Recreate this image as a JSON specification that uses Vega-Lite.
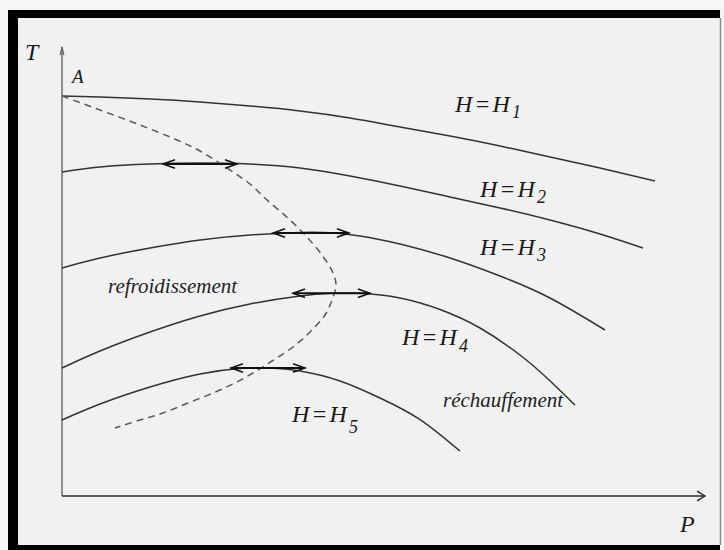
{
  "$schema": "https://vega.github.io/schema/vega-lite/v6.json",
  "width": 724,
  "height": 550,
  "padding": 0,
  "autosize": {"type": "fit", "contains": "padding"},
  "background": "#f6f6f6",
  "config": {"view": {"stroke": null}},
  "datasets": {
    "frame": [{"x1": -0.9, "x2": 10.967, "y1": -1.2, "y2": 10.8}],
    "inner": [{"x1": -0.733, "x2": 10.967, "y1": -1.089, "y2": 10.622}],
    "edge": [{"x": 10.975, "y1": -1.089, "y2": 10.622}],
    "axes": [
      {"axis": "T", "x1": 0, "x2": 0, "y1": 0, "y2": 9.978},
      {"axis": "P", "x1": 0, "x2": 10.717, "y1": 0, "y2": 0}
    ],
    "axisHeads": [
      {"dir": "up", "P": 0, "T": 9.978},
      {"dir": "right", "P": 10.717, "T": 0}
    ],
    "isenthalps": [
      {"curve": "H1", "P": 0, "T": 8.889}, {"curve": "H1", "P": 0.633, "T": 8.867}, {"curve": "H1", "P": 1.467, "T": 8.822},
      {"curve": "H1", "P": 2.3, "T": 8.756}, {"curve": "H1", "P": 3.133, "T": 8.667}, {"curve": "H1", "P": 3.967, "T": 8.556},
      {"curve": "H1", "P": 4.8, "T": 8.4}, {"curve": "H1", "P": 5.633, "T": 8.2}, {"curve": "H1", "P": 6.467, "T": 8.0},
      {"curve": "H1", "P": 7.3, "T": 7.778}, {"curve": "H1", "P": 8.133, "T": 7.533}, {"curve": "H1", "P": 8.967, "T": 7.289},
      {"curve": "H1", "P": 9.883, "T": 7.0},
      {"curve": "H2", "P": 0, "T": 7.2}, {"curve": "H2", "P": 0.633, "T": 7.311}, {"curve": "H2", "P": 1.467, "T": 7.378},
      {"curve": "H2", "P": 2.3, "T": 7.4}, {"curve": "H2", "P": 3.133, "T": 7.378}, {"curve": "H2", "P": 3.967, "T": 7.289},
      {"curve": "H2", "P": 4.8, "T": 7.111}, {"curve": "H2", "P": 5.633, "T": 6.889}, {"curve": "H2", "P": 6.467, "T": 6.644},
      {"curve": "H2", "P": 7.3, "T": 6.4}, {"curve": "H2", "P": 8.133, "T": 6.133}, {"curve": "H2", "P": 8.967, "T": 5.822},
      {"curve": "H2", "P": 9.683, "T": 5.511},
      {"curve": "H3", "P": 0, "T": 5.067}, {"curve": "H3", "P": 0.633, "T": 5.289}, {"curve": "H3", "P": 1.467, "T": 5.511},
      {"curve": "H3", "P": 2.3, "T": 5.689}, {"curve": "H3", "P": 3.133, "T": 5.8}, {"curve": "H3", "P": 3.967, "T": 5.856},
      {"curve": "H3", "P": 4.467, "T": 5.85}, {"curve": "H3", "P": 4.967, "T": 5.778}, {"curve": "H3", "P": 5.633, "T": 5.6},
      {"curve": "H3", "P": 6.467, "T": 5.289}, {"curve": "H3", "P": 7.3, "T": 4.889}, {"curve": "H3", "P": 8.133, "T": 4.4},
      {"curve": "H3", "P": 9.05, "T": 3.689},
      {"curve": "H4", "P": 0, "T": 2.844}, {"curve": "H4", "P": 0.633, "T": 3.222}, {"curve": "H4", "P": 1.467, "T": 3.644},
      {"curve": "H4", "P": 2.3, "T": 4.0}, {"curve": "H4", "P": 3.133, "T": 4.267}, {"curve": "H4", "P": 3.967, "T": 4.444},
      {"curve": "H4", "P": 4.467, "T": 4.505}, {"curve": "H4", "P": 4.967, "T": 4.505}, {"curve": "H4", "P": 5.633, "T": 4.4},
      {"curve": "H4", "P": 6.3, "T": 4.144}, {"curve": "H4", "P": 6.967, "T": 3.733}, {"curve": "H4", "P": 7.633, "T": 3.133},
      {"curve": "H4", "P": 8.1, "T": 2.6}, {"curve": "H4", "P": 8.55, "T": 2.022},
      {"curve": "H5", "P": 0, "T": 1.689}, {"curve": "H5", "P": 0.633, "T": 2.044}, {"curve": "H5", "P": 1.467, "T": 2.422},
      {"curve": "H5", "P": 2.3, "T": 2.711}, {"curve": "H5", "P": 2.967, "T": 2.833}, {"curve": "H5", "P": 3.467, "T": 2.844},
      {"curve": "H5", "P": 3.967, "T": 2.778}, {"curve": "H5", "P": 4.633, "T": 2.556}, {"curve": "H5", "P": 5.3, "T": 2.178},
      {"curve": "H5", "P": 5.967, "T": 1.7}, {"curve": "H5", "P": 6.633, "T": 1.0}
    ],
    "inversion": [
      {"i": 0, "P": 0, "T": 8.889}, {"i": 1, "P": 0.633, "T": 8.578}, {"i": 2, "P": 1.3, "T": 8.244},
      {"i": 3, "P": 1.917, "T": 7.911}, {"i": 4, "P": 2.3, "T": 7.667}, {"i": 5, "P": 2.75, "T": 7.289},
      {"i": 6, "P": 3.133, "T": 6.933}, {"i": 7, "P": 3.417, "T": 6.578}, {"i": 8, "P": 3.8, "T": 6.133},
      {"i": 9, "P": 4.083, "T": 5.756}, {"i": 10, "P": 4.333, "T": 5.356}, {"i": 11, "P": 4.517, "T": 4.956},
      {"i": 12, "P": 4.567, "T": 4.689}, {"i": 13, "P": 4.5, "T": 4.356}, {"i": 14, "P": 4.383, "T": 4.022},
      {"i": 15, "P": 4.133, "T": 3.644}, {"i": 16, "P": 3.85, "T": 3.311}, {"i": 17, "P": 3.5, "T": 3.0},
      {"i": 18, "P": 3.183, "T": 2.733}, {"i": 19, "P": 2.85, "T": 2.489}, {"i": 20, "P": 2.517, "T": 2.289},
      {"i": 21, "P": 2.1, "T": 2.067}, {"i": 22, "P": 1.683, "T": 1.844}, {"i": 23, "P": 1.3, "T": 1.689},
      {"i": 24, "P": 0.883, "T": 1.511}
    ],
    "arrows": [
      {"curve": "H2", "P1": 1.683, "P2": 2.917, "T": 7.378},
      {"curve": "H3", "P1": 3.517, "P2": 4.783, "T": 5.844},
      {"curve": "H4", "P1": 3.85, "P2": 5.133, "T": 4.505},
      {"curve": "H5", "P1": 2.817, "P2": 4.05, "T": 2.844}
    ],
    "heads": [
      {"dir": "left", "P": 1.683, "T": 7.378}, {"dir": "right", "P": 2.917, "T": 7.378},
      {"dir": "left", "P": 3.517, "T": 5.844}, {"dir": "right", "P": 4.783, "T": 5.844},
      {"dir": "left", "P": 3.85, "T": 4.505}, {"dir": "right", "P": 5.133, "T": 4.505},
      {"dir": "left", "P": 2.817, "T": 2.844}, {"dir": "right", "P": 4.05, "T": 2.844}
    ],
    "axisLabels": [
      {"label": "T", "P": -0.617, "T": 9.689},
      {"label": "P", "P": 10.3, "T": -0.8}
    ],
    "pointLabels": [{"label": "A", "P": 0.167, "T": 9.178}],
    "curveLabels": [
      {"label": "H\u200a=\u200aH", "P": 6.55, "T": 8.533},
      {"label": "H\u200a=\u200aH", "P": 6.967, "T": 6.644},
      {"label": "H\u200a=\u200aH", "P": 6.967, "T": 5.356},
      {"label": "H\u200a=\u200aH", "P": 5.667, "T": 3.356},
      {"label": "H\u200a=\u200aH", "P": 3.833, "T": 1.644}
    ],
    "subscripts": [
      {"label": "1", "P": 7.5, "T": 8.4},
      {"label": "2", "P": 7.917, "T": 6.511},
      {"label": "3", "P": 7.917, "T": 5.222},
      {"label": "4", "P": 6.617, "T": 3.2},
      {"label": "5", "P": 4.783, "T": 1.4}
    ],
    "regions": [
      {"label": "refroidissement", "P": 0.767, "T": 4.511},
      {"label": "réchauffement", "P": 6.35, "T": 1.978}
    ]
  },
  "resolve": {"scale": {"color": "independent", "shape": "independent"}},
  "encoding": {
    "x": {"type": "quantitative", "scale": {"domain": [-1.0333, 11.0333], "nice": false, "zero": false}, "axis": null},
    "y": {"type": "quantitative", "scale": {"domain": [-1.2, 11.0222], "nice": false, "zero": false}, "axis": null}
  },
  "layer": [
    {
      "data": {"name": "frame"},
      "mark": {"type": "rect", "fill": "#000000"},
      "encoding": {"x": {"field": "x1", "type": "quantitative"}, "x2": {"field": "x2"}, "y": {"field": "y1", "type": "quantitative"}, "y2": {"field": "y2"}}
    },
    {
      "data": {"name": "inner"},
      "mark": {"type": "rect", "fill": "#f1f1f1"},
      "encoding": {"x": {"field": "x1", "type": "quantitative"}, "x2": {"field": "x2"}, "y": {"field": "y1", "type": "quantitative"}, "y2": {"field": "y2"}}
    },
    {
      "data": {"name": "edge"},
      "mark": {"type": "rule", "color": "#8a8a8a", "strokeWidth": 1.5},
      "encoding": {"x": {"field": "x", "type": "quantitative"}, "y": {"field": "y1", "type": "quantitative"}, "y2": {"field": "y2"}}
    },
    {
      "data": {"name": "axes"},
      "mark": {"type": "rule", "strokeWidth": 1.5},
      "encoding": {
        "x": {"field": "x1", "type": "quantitative"}, "x2": {"field": "x2"},
        "y": {"field": "y1", "type": "quantitative"}, "y2": {"field": "y2"},
        "color": {"field": "axis", "type": "nominal", "scale": {"domain": ["T", "P"], "range": ["#6e6e6e", "#2a2a2a"]}, "legend": null}
      }
    },
    {
      "data": {"name": "axisHeads"},
      "mark": {"type": "point", "filled": false, "strokeWidth": 1.4, "opacity": 1},
      "encoding": {
        "x": {"field": "P", "type": "quantitative"},
        "y": {"field": "T", "type": "quantitative"},
        "shape": {"field": "dir", "type": "nominal", "scale": {"domain": ["up", "right"], "range": ["M-0.45,2L0,0L0.45,2", "M-2,-1.2L0,0L-2,1.2"]}, "legend": null},
        "color": {"field": "dir", "type": "nominal", "scale": {"domain": ["up", "right"], "range": ["#6e6e6e", "#2a2a2a"]}, "legend": null},
        "size": {"value": 64}
      }
    },
    {
      "data": {"name": "isenthalps"},
      "mark": {"type": "line", "color": "#333333", "strokeWidth": 1.5, "interpolate": "natural"},
      "encoding": {
        "x": {"field": "P", "type": "quantitative"},
        "y": {"field": "T", "type": "quantitative"},
        "detail": {"field": "curve"}
      }
    },
    {
      "data": {"name": "inversion"},
      "mark": {"type": "line", "color": "#5a5a5a", "strokeWidth": 1.5, "strokeDash": [7, 5], "interpolate": "catmull-rom"},
      "encoding": {
        "x": {"field": "P", "type": "quantitative"},
        "y": {"field": "T", "type": "quantitative"},
        "order": {"field": "i", "type": "quantitative"}
      }
    },
    {
      "data": {"name": "arrows"},
      "mark": {"type": "rule", "color": "#111111", "strokeWidth": 2},
      "encoding": {
        "x": {"field": "P1", "type": "quantitative"}, "x2": {"field": "P2"},
        "y": {"field": "T", "type": "quantitative"}
      }
    },
    {
      "data": {"name": "heads"},
      "mark": {"type": "point", "filled": false, "strokeWidth": 1.5, "color": "#111111", "opacity": 1},
      "encoding": {
        "x": {"field": "P", "type": "quantitative"},
        "y": {"field": "T", "type": "quantitative"},
        "shape": {"field": "dir", "type": "nominal", "scale": {"domain": ["left", "right"], "range": ["M2,-0.7L0,0L2,0.7", "M-2,-0.7L0,0L-2,0.7"]}, "legend": null},
        "size": {"value": 144}
      }
    },
    {
      "data": {"name": "axisLabels"},
      "mark": {"type": "text", "font": "Liberation Serif", "fontStyle": "italic", "fontSize": 24, "align": "left", "baseline": "alphabetic", "color": "#1a1a1a"},
      "encoding": {"x": {"field": "P", "type": "quantitative"}, "y": {"field": "T", "type": "quantitative"}, "text": {"field": "label"}}
    },
    {
      "data": {"name": "pointLabels"},
      "mark": {"type": "text", "font": "Liberation Serif", "fontStyle": "italic", "fontSize": 19, "align": "left", "baseline": "alphabetic", "color": "#1a1a1a"},
      "encoding": {"x": {"field": "P", "type": "quantitative"}, "y": {"field": "T", "type": "quantitative"}, "text": {"field": "label"}}
    },
    {
      "data": {"name": "curveLabels"},
      "mark": {"type": "text", "font": "Liberation Serif", "fontStyle": "italic", "fontSize": 24, "align": "left", "baseline": "alphabetic", "color": "#1a1a1a"},
      "encoding": {"x": {"field": "P", "type": "quantitative"}, "y": {"field": "T", "type": "quantitative"}, "text": {"field": "label"}}
    },
    {
      "data": {"name": "subscripts"},
      "mark": {"type": "text", "font": "Liberation Serif", "fontStyle": "italic", "fontSize": 18, "align": "left", "baseline": "alphabetic", "color": "#1a1a1a"},
      "encoding": {"x": {"field": "P", "type": "quantitative"}, "y": {"field": "T", "type": "quantitative"}, "text": {"field": "label"}}
    },
    {
      "data": {"name": "regions"},
      "mark": {"type": "text", "font": "Liberation Serif", "fontStyle": "italic", "fontSize": 21, "align": "left", "baseline": "alphabetic", "color": "#1f1f1f"},
      "encoding": {"x": {"field": "P", "type": "quantitative"}, "y": {"field": "T", "type": "quantitative"}, "text": {"field": "label"}}
    }
  ]
}
